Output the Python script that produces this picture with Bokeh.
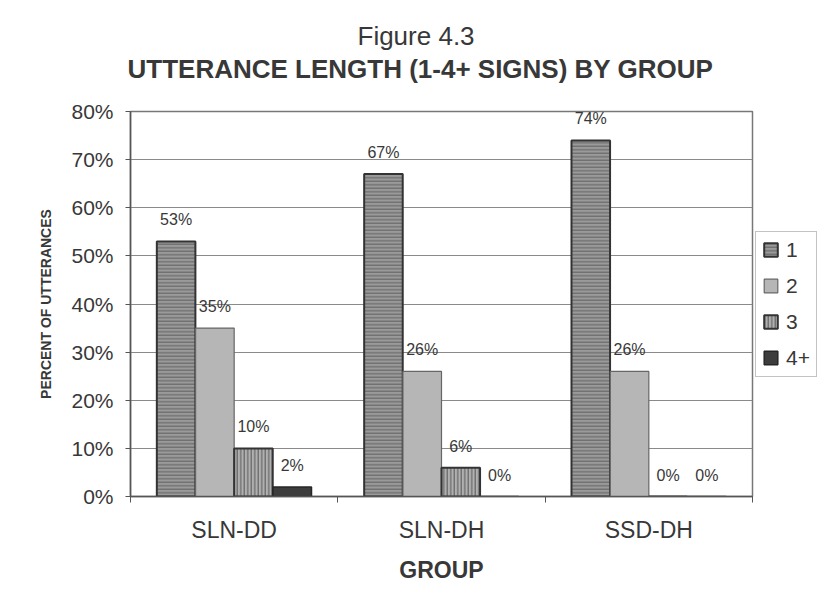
from bokeh.plotting import figure
from bokeh.models import (Range1d, FixedTicker, NumeralTickFormatter, Legend, LegendItem,
                          ColumnDataSource, Title)
from bokeh.transform import dodge
from bokeh.core.properties import value
from bokeh.embed import file_html
from bokeh.resources import INLINE

# ---- data ----
groups = ["SLN-DD", "SLN-DH", "SSD-DH"]
series_names = ["1", "2", "3", "4+"]
len_1 = [0.53, 0.67, 0.74]
len_2 = [0.35, 0.26, 0.26]
len_3 = [0.10, 0.06, 0.00]
len_4plus = [0.02, 0.00, 0.00]
y_ticks = [0.0, 0.1, 0.2, 0.3, 0.4, 0.5, 0.6, 0.7, 0.8]
title_line1 = "Figure 4.3"
title_line2 = "UTTERANCE LENGTH (1-4+ SIGNS) BY GROUP"
x_title = "GROUP"
y_title = "PERCENT OF UTTERANCES"

FONT = "Liberation Sans"
TXT = "#383838"

centers = [i + 0.5 for i in range(len(groups))]
boundaries = [float(i) for i in range(len(groups) + 1)]

p = figure(frame_width=622, frame_height=385, output_backend="svg", toolbar_location=None,
           x_range=Range1d(0, len(groups)), y_range=Range1d(0, 0.8),
           min_border_left=130, min_border_right=72, min_border_top=111,
           min_border_bottom=106)
p.background_fill_color = "white"
p.border_fill_color = "white"
p.outline_line_color = "#777777"
p.outline_line_width = 1.5

# titles: p.title is the outermost line; added titles stack outward from the frame
p.title.text = title_line1
p.title.text_font = FONT
p.title.text_font_size = "26px"
p.title.text_font_style = "normal"
p.title.text_color = TXT
p.title.align = "left"
p.title.offset = 227
p.title.standoff = 2
# blank spacer between the plot area and the title block (closest to the frame)
p.add_layout(Title(text=" ", text_font=FONT, text_font_size="10px",
                   text_color="white", standoff=14), "above")
p.add_layout(Title(text=title_line2, text_font=FONT, text_font_size="26px",
                   text_font_style="bold", text_color=TXT, align="left",
                   offset=-3, standoff=1), "above")

# x axis (categories at centers, ticks at boundaries)
xa = p.xaxis[0]
xa.ticker = FixedTicker(ticks=centers, minor_ticks=boundaries)
xa.major_label_overrides = {c: g for c, g in zip(centers, groups)}
xa.major_tick_out = 0
xa.major_tick_in = 0
xa.minor_tick_out = 6
xa.minor_tick_in = 0
xa.minor_tick_line_color = "#555555"
xa.axis_line_color = "#555555"
xa.axis_line_width = 1.5
xa.major_label_text_font = FONT
xa.major_label_text_font_size = "23px"
xa.major_label_text_color = TXT
xa.major_label_standoff = 14
xa.axis_label = x_title
xa.axis_label_text_font = FONT
xa.axis_label_text_font_size = "23px"
xa.axis_label_text_font_style = "bold"
xa.axis_label_text_color = TXT
xa.axis_label_standoff = 11

# y axis
ya = p.yaxis[0]
ya.ticker = FixedTicker(ticks=y_ticks)
ya.formatter = NumeralTickFormatter(format="0%")
ya.major_tick_out = 5
ya.major_tick_in = 0
ya.minor_tick_out = 0
ya.minor_tick_in = 0
ya.major_tick_line_color = "#555555"
ya.axis_line_color = "#555555"
ya.axis_line_width = 1.5
ya.major_label_text_font = FONT
ya.major_label_text_font_size = "21px"
ya.major_label_text_color = TXT
ya.major_label_standoff = 12
ya.axis_label = y_title
ya.axis_label_text_font = FONT
ya.axis_label_text_font_size = "14px"
ya.axis_label_text_font_style = "bold"
ya.axis_label_text_color = TXT
ya.axis_label_standoff = 14

p.xgrid.visible = False
p.ygrid.grid_line_color = "#8a8a8a"
p.ygrid.grid_line_width = 1

offsets = [-0.28, -0.093, 0.093, 0.28]
bar_w = 0.186
styles = [
    dict(fill_color="#9a9a9a", hatch_pattern="horizontal_line", hatch_color="#606060",
         hatch_scale=3.5, hatch_weight=1, line_color="#333333", line_width=2),
    dict(fill_color="#b6b6b6", line_color="#666666", line_width=1.2),
    dict(fill_color="#b0b0b0", hatch_pattern="vertical_line", hatch_color="#555555",
         hatch_scale=3.5, hatch_weight=1, line_color="#333333", line_width=2),
    dict(fill_color="#3d3d3d", line_color="#262626", line_width=1.5),
]
series = [len_1, len_2, len_3, len_4plus]

items = []
for name, vals, off, st in zip(series_names, series, offsets, styles):
    src = ColumnDataSource(dict(x=centers, top=vals,
                                label=[f"{round(v * 100)}%" for v in vals]))
    r = p.vbar(x=dodge("x", off, range=p.x_range), top="top", width=bar_w,
               source=src, **st)
    p.text(x=dodge("x", off, range=p.x_range), y="top", text="label", source=src,
           text_align="center", text_baseline="bottom", y_offset=-13,
           text_font=value(FONT), text_font_size="16px", text_color=TXT)
    items.append(LegendItem(label=name, renderers=[r]))

legend = Legend(items=items, location="center_left", orientation="vertical")
legend.label_text_font = FONT
legend.label_text_font_size = "21px"
legend.label_text_color = TXT
legend.glyph_width = 17
legend.glyph_height = 17
legend.label_height = 17
legend.spacing = 12
legend.padding = 6
legend.margin = 3
legend.label_standoff = 7
legend.border_line_color = "#888888"
legend.border_line_width = 1
legend.background_fill_color = "white"
p.add_layout(legend, "right")

open("out.html", "w").write(file_html(p, INLINE))
